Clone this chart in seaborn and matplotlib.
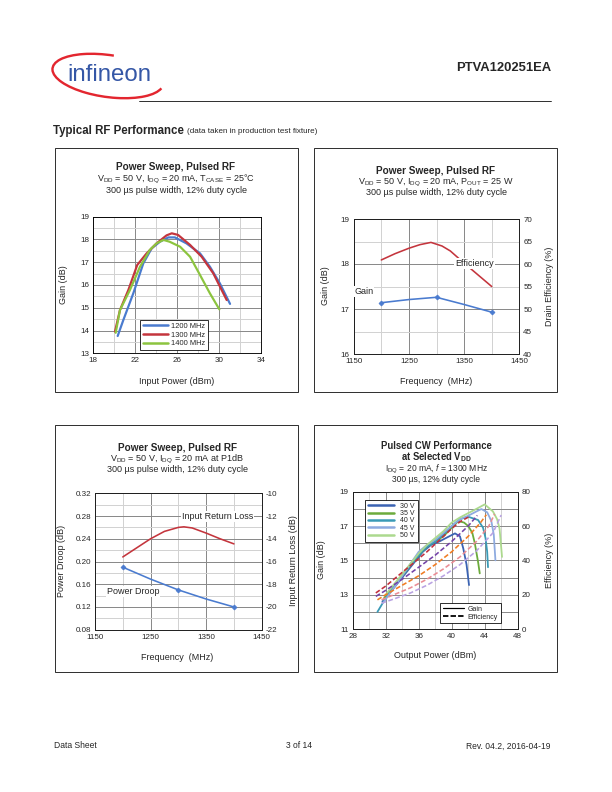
import numpy as np
import pandas as pd
import matplotlib
matplotlib.use("Agg")
import matplotlib.pyplot as plt
import seaborn as sns
from matplotlib.patches import Rectangle, Arc
from matplotlib.lines import Line2D
from matplotlib.ticker import FixedLocator, FormatStrFormatter

# ---------------- data ----------------
# Chart 1: gain vs input power
pin_1200 = [20.33, 20.87, 21.82, 22.78, 23.58, 24.37, 25.17, 25.8, 26.9, 28.2, 29.15, 30.1, 31.07]
gain_1200 = [13.76, 14.46, 15.63, 16.95, 17.61, 17.9, 18.09, 18.09, 17.83, 17.39, 16.8, 16.07, 15.17]
pin_1300 = [20.07, 20.55, 21.35, 22.2, 23.1, 24.05, 25.0, 25.5, 26.1, 27.25, 28.36, 29.47, 30.75]
gain_1300 = [13.95, 14.9, 15.78, 16.88, 17.39, 17.83, 18.18, 18.27, 18.2, 17.76, 17.24, 16.51, 15.34]
pin_1400 = [20.14, 20.55, 21.5, 22.46, 23.4, 24.05, 24.7, 25.3, 26.3, 27.25, 28.2, 29.15, 30.05]
gain_1400 = [13.9, 14.9, 15.78, 16.8, 17.54, 17.83, 17.98, 17.9, 17.68, 17.24, 16.44, 15.63, 14.93]
freq_labels = ["1200 MHz", "1300 MHz", "1400 MHz"]
c1_xticks = [18, 22, 26, 30, 34]
c1_yticks = [13, 14, 15, 16, 17, 18, 19]

# Chart 2: gain & drain efficiency vs frequency
c2_freq_gain = [1200, 1250, 1300, 1350, 1400]
c2_gain = [17.14, 17.21, 17.26, 17.10, 16.93]
c2_freq_eff = [1200, 1225, 1250, 1270, 1290, 1310, 1325, 1350, 1375, 1400]
c2_eff = [60.9, 62.3, 63.5, 64.3, 64.8, 64.0, 62.9, 60.2, 57.6, 55.0]
freq_xticks = [1150, 1250, 1350, 1450]
c2_yticks = [16, 17, 18, 19]
c2_y2ticks = [40, 45, 50, 55, 60, 65, 70]

# Chart 3: power droop & input return loss vs frequency
c3_freq_droop = [1200, 1250, 1300, 1350, 1400]
c3_droop = [0.19, 0.169, 0.15, 0.134, 0.12]
c3_freq_irl = [1200, 1225, 1250, 1275, 1300, 1310, 1325, 1350, 1375, 1400]
c3_irl = [-15.6, -14.8, -14.0, -13.35, -13.0, -12.95, -13.05, -13.5, -14.0, -14.45]
c3_yticks = [0.08, 0.12, 0.16, 0.20, 0.24, 0.28, 0.32]
c3_y2ticks = [-22, -20, -18, -16, -14, -12, -10]

# Chart 4: gain & efficiency vs output power at selected VDD
vdd_labels = ["30 V", "35 V", "40 V", "45 V", "50 V"]
pout_30 = [31.6, 32.5, 33.5, 34.5, 35.5, 36.5, 37.5, 38.5, 39.5, 40.4, 41.0, 41.4, 41.8, 42.1]
g_30 = [12.6, 13.1, 13.7, 14.3, 14.9, 15.5, 15.9, 16.1, 16.35, 16.57, 16.4, 15.7, 14.75, 13.56]
pout_35 = [31.8, 33, 34, 35, 36, 37, 38, 39, 40, 40.8, 41.5, 42.0, 42.5, 42.8, 43.2, 43.4]
g_35 = [12.8, 13.5, 14.1, 14.7, 15.3, 15.8, 16.1, 16.4, 16.9, 17.29, 17.2, 17.0, 16.6, 16.0, 14.9, 14.24]
pout_40 = [31.0, 32, 33, 34, 35, 36, 37, 38, 39, 40, 41, 42.0, 43.2, 43.8, 44.1, 44.3, 44.4]
g_40 = [12.0, 12.8, 13.5, 14.1, 14.7, 15.3, 15.8, 16.1, 16.5, 17.0, 17.4, 17.54, 17.35, 16.9, 16.3, 15.5, 14.6]
pout_45 = [31.8, 33, 34, 35, 36, 37, 38, 39, 40, 41, 42, 43, 43.6, 44.3, 44.8, 45.1, 45.3]
g_45 = [12.6, 13.4, 14.1, 14.8, 15.5, 15.9, 16.2, 16.6, 17.0, 17.4, 17.6, 17.85, 17.99, 17.8, 17.3, 16.5, 15.0]
pout_50 = [32.0, 33, 34, 35, 36, 37, 38, 39, 40, 41, 42, 43, 44.0, 45.0, 45.5, 45.8, 46.1]
g_50 = [13.0, 13.6, 14.2, 14.8, 15.4, 15.9, 16.3, 16.7, 17.2, 17.5, 17.75, 18.0, 18.26, 17.85, 17.4, 16.85, 15.2]

epout_30 = [30.8, 32, 33, 34, 35, 36, 37, 38, 39, 40, 41, 42.1]
eff_30 = [21, 25, 29, 33, 37, 41, 45, 49.5, 54, 58.5, 62.5, 65.4]
epout_35 = [30.8, 32, 34, 36, 38, 40, 42, 43.1]
eff_35 = [19, 22.5, 29, 36, 43, 51, 60, 66.2]
epout_40 = [31.0, 32, 34, 36, 38, 40, 42, 43.5, 44.2]
eff_40 = [17, 20, 25.5, 31, 37.5, 45, 54, 62, 66.6]
epout_45 = [31.5, 33, 35, 37, 39, 41, 43, 44.5, 45.2]
eff_45 = [17, 20, 24, 29, 35, 42, 51, 60, 67]
epout_50 = [31.5, 33, 35, 37, 39, 41, 43, 45, 46.0]
eff_50 = [15, 17.5, 21, 25.5, 31, 37.5, 45.5, 56, 66.4]
c4_xticks = [28, 32, 36, 40, 44, 48]
c4_yticks = [11, 13, 15, 17, 19]
c4_y2ticks = [0, 20, 40, 60, 80]

# ---------------- style ----------------
sns.set_style("white")
plt.rcParams['font.family'] = ['Liberation Sans', 'DejaVu Sans']
plt.rcParams['mathtext.fontset'] = 'custom'
plt.rcParams['mathtext.rm'] = 'Liberation Sans'
plt.rcParams['mathtext.it'] = 'Liberation Sans:italic'
plt.rcParams['mathtext.bf'] = 'Liberation Sans:bold'
plt.rcParams['axes.unicode_minus'] = False

W, H = 612, 792
fig = plt.figure(figsize=(8.5, 11), dpi=72)


def fx(x):
    return x / W


def fy(y):
    return 1 - y / H


def T(x, y, s, size=9, weight='normal', ha='center', **kw):
    fig.text(fx(x), fy(y), s, fontsize=size, fontweight=weight, ha=ha, va='center', **kw)


def axes_px(x0, y0, x1, y1):
    return fig.add_axes([fx(x0), fy(y1), (x1 - x0) / W, (y1 - y0) / H])


def box(x0, y0, x1, y1):
    fig.add_artist(Rectangle((fx(x0), fy(y1)), (x1 - x0) / W, (y1 - y0) / H,
                             transform=fig.transFigure, fill=False, ec='black', lw=0.8))


MAJ = '#8a8a8a'
MIN = '#d2d2d2'


def mids(t):
    return [(a + b) / 2 for a, b in zip(t[:-1], t[1:])]


def style(ax, xticks, yticks, ymin_color=MIN, yfmt=None, yminor=None):
    ax.set_xlim(xticks[0], xticks[-1])
    ax.set_ylim(yticks[0], yticks[-1])
    ax.xaxis.set_major_locator(FixedLocator(xticks))
    ax.xaxis.set_minor_locator(FixedLocator(mids(xticks)))
    ax.yaxis.set_major_locator(FixedLocator(yticks))
    ax.yaxis.set_minor_locator(FixedLocator(yminor if yminor is not None else mids(yticks)))
    if yfmt:
        ax.yaxis.set_major_formatter(FormatStrFormatter(yfmt))
    ax.xaxis.grid(True, which='major', color=MAJ, lw=1.0)
    ax.xaxis.grid(True, which='minor', color=MIN, lw=1.0)
    ax.yaxis.grid(True, which='major', color=MAJ, lw=1.0)
    ax.yaxis.grid(True, which='minor', color=ymin_color, lw=1.0)
    ax.tick_params(which='both', length=0, labelsize=8, pad=4)
    for s in ax.spines.values():
        s.set_visible(True)
        s.set_color('black')
        s.set_linewidth(0.9)
    ax.set_axisbelow(True)
    ax.set_xlabel('')
    ax.set_ylabel('')


def twin_style(axb, yticks, yfmt=None):
    axb.set_ylim(yticks[0], yticks[-1])
    axb.yaxis.set_major_locator(FixedLocator(yticks))
    if yfmt:
        axb.yaxis.set_major_formatter(FormatStrFormatter(yfmt))
    axb.grid(False)
    axb.tick_params(which='both', length=0, labelsize=8, pad=4)
    axb.set_ylabel('')


# ---------------- page header / footer ----------------
ax0 = fig.add_axes([0, 0, 1, 1], zorder=-5)
ax0.set_xlim(0, W)
ax0.set_ylim(H, 0)
ax0.axis('off')
ax0.add_patch(Arc((108, 76), 112, 42, angle=8, theta1=5, theta2=278, color='#e3262f', lw=2.4))
ax0.text(109, 75, 'infineon', fontsize=24, color='#3557a6', ha='center', va='center')
ax0.plot([139, 551], [101, 101], color='black', lw=0.8)

T(551, 68, 'PTVA120251EA', size=13, weight='bold', ha='right')
fig.text(fx(53), fy(131), 'Typical RF Performance', fontsize=11.5, fontweight='bold', ha='left', va='center')
T(187, 131.5, '(data taken in production test fixture)', size=8, ha='left')

T(54, 746, 'Data Sheet', size=8.5, ha='left')
T(299, 746, '3 of 14', size=8.5)
T(551, 746, 'Rev. 04.2, 2016-04-19', size=8.5, ha='right')

# boxes
box(55, 148, 298, 392)
box(314, 148, 557, 392)
box(55, 425, 298, 672)
box(314, 425, 557, 672)

BLUE = '#4a7bcf'
RED = '#c4353d'
GREEN = '#8cc43f'

# ---------------- Chart 1 ----------------
ax1 = axes_px(93.3, 216.7, 260.7, 353.3)
df1 = pd.concat([
    pd.DataFrame({'pin': pin_1200, 'gain': gain_1200, 'freq': freq_labels[0]}),
    pd.DataFrame({'pin': pin_1300, 'gain': gain_1300, 'freq': freq_labels[1]}),
    pd.DataFrame({'pin': pin_1400, 'gain': gain_1400, 'freq': freq_labels[2]}),
])
sns.lineplot(data=df1, x='pin', y='gain', hue='freq', palette=[BLUE, RED, GREEN],
             sort=False, estimator=None, lw=2.2, ax=ax1, legend=False)
style(ax1, c1_xticks, c1_yticks)
h1 = [Line2D([], [], color=c, lw=2.5) for c in [BLUE, RED, GREEN]]
leg1 = ax1.legend(h1, freq_labels, loc='lower left', bbox_to_anchor=(0.279, 0.024), fontsize=7.5,
                  frameon=True, fancybox=False, edgecolor='black', framealpha=1, handlelength=3.4,
                  labelspacing=0.2, borderpad=0.35, handletextpad=0.4, borderaxespad=0)
leg1.get_frame().set_linewidth(0.8)
T(176, 167, 'Power Sweep, Pulsed RF', size=10, weight='bold')
T(176, 179.5, r'V$_{\mathrm{DD}}$ = 50 V, I$_{\mathrm{DQ}}$ = 20 mA, T$_{\mathrm{CASE}}$ = 25°C', size=9)
T(176, 190.5, '300 µs pulse width, 12% duty cycle', size=9)
T(177, 381, 'Input Power (dBm)', size=9)
T(63, 285, 'Gain (dB)', size=9, rotation=90)

# ---------------- Chart 2 ----------------
ax2 = axes_px(353.7, 219, 519.3, 354)
sns.lineplot(x=c2_freq_gain, y=c2_gain, color=BLUE, lw=1.6, marker='D', ms=3.5,
             markevery=[0, 2, 4], markeredgecolor=BLUE, ax=ax2)
style(ax2, freq_xticks, c2_yticks)
ax2.xaxis.set_minor_locator(FixedLocator([1200, 1300, 1400]))
ax2b = ax2.twinx()
sns.lineplot(x=c2_freq_eff, y=c2_eff, color=RED, lw=1.6, ax=ax2b)
twin_style(ax2b, c2_y2ticks)
ax2b.text(1369, 60.2, 'Efficiency', fontsize=9, ha='center', va='center', zorder=6,
          bbox=dict(fc='white', ec='none', pad=1))
ax2b.text(1168, 53.8, 'Gain', fontsize=9, ha='center', va='center', zorder=6,
          bbox=dict(fc='white', ec='none', pad=1))
T(436, 171, 'Power Sweep, Pulsed RF', size=10, weight='bold')
T(436, 182, r'V$_{\mathrm{DD}}$ = 50 V, I$_{\mathrm{DQ}}$ = 20 mA, P$_{\mathrm{OUT}}$ = 25 W', size=9)
T(436, 192.5, '300 µs pulse width, 12% duty cycle', size=9)
T(436, 381, 'Frequency  (MHz)', size=9)
T(325, 286, 'Gain (dB)', size=9, rotation=90)
T(549, 286, 'Drain Efficiency (%)', size=9, rotation=90)

# ---------------- Chart 3 ----------------
ax3 = axes_px(95, 493.3, 261.7, 629.7)
sns.lineplot(x=c3_freq_droop, y=c3_droop, color=BLUE, lw=1.6, marker='D', ms=3.5,
             markevery=[0, 2, 4], markeredgecolor=BLUE, ax=ax3)
style(ax3, freq_xticks, c3_yticks, yfmt='%.2f')
ax3.xaxis.set_minor_locator(FixedLocator([1200, 1300, 1400]))
ax3b = ax3.twinx()
sns.lineplot(x=c3_freq_irl, y=c3_irl, color=RED, lw=1.6, ax=ax3b)
twin_style(ax3b, c3_y2ticks, yfmt='%d')
ax3b.text(1371, -12.0, 'Input Return Loss', fontsize=9, ha='center', va='center', zorder=6,
          bbox=dict(fc='white', ec='none', pad=1))
ax3b.text(1218, -18.65, 'Power Droop', fontsize=9, ha='center', va='center', zorder=6,
          bbox=dict(fc='white', ec='none', pad=1))
T(177, 448, 'Power Sweep, Pulsed RF', size=10, weight='bold')
T(177, 459, r'V$_{\mathrm{DD}}$ = 50 V, I$_{\mathrm{DQ}}$ = 20 mA at P1dB', size=9)
T(177, 469.5, '300 µs pulse width, 12% duty cycle', size=9)
T(177, 657, 'Frequency  (MHz)', size=9)
T(62, 561, 'Power Droop (dB)', size=9, rotation=90)
T(293, 561, 'Input Return Loss (dB)', size=9, rotation=90)

# ---------------- Chart 4 ----------------
ax4 = axes_px(352.7, 491.7, 517.7, 629)
gain_cols = ['#3b63b3', '#6cab3c', '#3a9ab6', '#8eabe0', '#acd98e']
eff_cols = ['#c2303c', '#7443a8', '#f07c22', '#ea8c94', '#b9a2e2']
gain_sets = [(pout_30, g_30), (pout_35, g_35), (pout_40, g_40), (pout_45, g_45), (pout_50, g_50)]
eff_sets = [(epout_30, eff_30), (epout_35, eff_35), (epout_40, eff_40), (epout_45, eff_45), (epout_50, eff_50)]
df4 = pd.concat([pd.DataFrame({'pout': p, 'gain': g, 'vdd': v})
                 for (p, g), v in zip(gain_sets, vdd_labels)])
sns.lineplot(data=df4, x='pout', y='gain', hue='vdd', palette=gain_cols, sort=False,
             estimator=None, lw=1.8, ax=ax4, legend=False)
style(ax4, c4_xticks, c4_yticks, ymin_color=MAJ, yminor=[12, 14, 16, 18])
ax4b = ax4.twinx()
for (p, e), c in zip(eff_sets, eff_cols):
    sns.lineplot(x=p, y=e, color=c, lw=1.6, linestyle=(0, (3, 1.5)), sort=False,
                 estimator=None, ax=ax4b)
twin_style(ax4b, c4_y2ticks)
h4 = [Line2D([], [], color=c, lw=2.5) for c in gain_cols]
leg4 = ax4b.legend(h4, vdd_labels, loc='upper left', bbox_to_anchor=(0.076, 0.94), fontsize=7,
                   frameon=True, fancybox=False, edgecolor='black', framealpha=1, handlelength=3.7,
                   labelspacing=0.05, borderpad=0.4, handletextpad=0.9, borderaxespad=0)
leg4.get_frame().set_linewidth(0.8)
ax4b.add_artist(leg4)
h4b = [Line2D([], [], color='black', lw=1.2), Line2D([], [], color='black', lw=1.8, linestyle=(0, (3, 1.2)))]
leg4b = ax4b.legend(h4b, ['Gain', 'Efficiency'], loc='lower left', bbox_to_anchor=(0.53, 0.044),
                    fontsize=7, frameon=True, fancybox=False, edgecolor='black', framealpha=1,
                    handlelength=3.0, labelspacing=0.1, borderpad=0.35, handletextpad=0.6,
                    borderaxespad=0)
leg4b.get_frame().set_linewidth(0.8)
T(436, 446, 'Pulsed CW Performance', size=9.5, weight='bold')
T(436, 457, r'at Selected V$_{\mathbf{DD}}$', size=9.5, weight='bold')
T(436, 469, r'I$_{\mathrm{DQ}}$ = 20 mA, $\mathit{f}$ = 1300 MHz', size=8.5)
T(436, 479, '300 µs, 12% duty cycle', size=8.5)
T(435, 655, 'Output Power (dBm)', size=9)
T(322, 560, 'Gain (dB)', size=9, rotation=90)
T(549, 560, 'Efficiency (%)', size=9, rotation=90)

fig.savefig('out.png', dpi=72, facecolor='white')
